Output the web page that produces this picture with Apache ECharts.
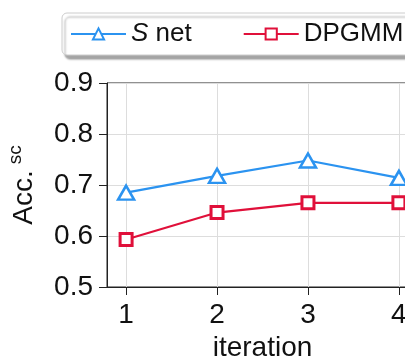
<!DOCTYPE html>
<html>
<head>
<meta charset="utf-8">
<script src="https://cdn.jsdelivr.net/npm/echarts@6/dist/echarts.min.js"></script>
<style>
  html, body { margin: 0; padding: 0; background: #fff; }
  #chart { width: 405px; height: 357px; }
</style>
</head>
<body>
<div id="chart"></div>
<script>
// 数据
var iterations = [1, 2, 3, 4];
var snetAcc = [0.685, 0.718, 0.748, 0.714];
var dpgmmAcc = [0.593, 0.646, 0.665, 0.665];
var yTicks = [0.5, 0.6, 0.7, 0.8, 0.9];

var font = '"Liberation Sans", Arial, sans-serif';

function pairs(xs, ys) {
    var out = [];
    for (var i = 0; i < xs.length; i++) out.push([xs[i], ys[i]]);
    return out;
}

var myChart = echarts.init(document.getElementById('chart'));
var option = {
    animation: false,
    textStyle: { fontFamily: font },
    legend: {
        orient: 'horizontal',
        left: 62,
        top: 13,
        width: 700,
        padding: [8, 40, 8, 8],
        itemWidth: 55,
        itemHeight: 14,
        itemGap: 51,
        backgroundColor: '#fff',
        borderColor: '#cccccc',
        borderWidth: 1,
        borderRadius: 5,
        shadowColor: 'rgba(0,0,0,0.35)',
        shadowBlur: 2,
        shadowOffsetX: 3,
        shadowOffsetY: 4,
        data: ['Snet', 'DPGMM'],
        formatter: function (name) {
            if (name === 'Snet') return '{i|S} net';
            return name;
        },
        textStyle: {
            fontSize: 26,
            color: '#111',
            fontFamily: font,
            rich: {
                i: { fontSize: 26, fontStyle: 'italic', color: '#111', fontFamily: font }
            }
        }
    },
    grid: {
        left: 107,
        top: 83,
        bottom: 70,
        right: -13,
        outerBoundsMode: 'none',
        containLabel: false,
        show: true,
        borderColor: '#222',
        borderWidth: 1,
        backgroundColor: 'transparent'
    },
    xAxis: {
        type: 'value',
        min: 0.79,
        max: 4.21,
        splitNumber: 3,
        name: 'iteration',
        nameLocation: 'middle',
        nameGap: 45,
        nameTextStyle: { fontSize: 28, color: '#111', fontFamily: font },
        axisLine: { show: true, lineStyle: { color: '#222', width: 1 } },
        axisTick: { show: true, inside: false, length: 8, customValues: iterations, lineStyle: { color: '#222' } },
        axisLabel: {
            fontSize: 28, color: '#111', margin: 14,
            customValues: iterations,
            formatter: function (v) { return Math.abs(v - Math.round(v)) < 1e-6 ? String(Math.round(v)) : ''; }
        },
        splitLine: { show: true, lineStyle: { color: '#dddddd', width: 1 } }
    },
    yAxis: {
        type: 'value',
        min: 0.5,
        max: 0.9,
        interval: 0.1,
        name: 'Acc.{sup|sc}',
        nameLocation: 'middle',
        nameGap: 64,
        nameRotate: 90,
        nameTextStyle: {
            fontSize: 28, color: '#111', fontFamily: font,
            rich: {
                sup: { fontSize: 19, color: '#111', fontFamily: font, verticalAlign: 'top', padding: [0, 0, 18, 6] }
            }
        },
        axisLine: { show: true, lineStyle: { color: '#222', width: 1 } },
        axisTick: { show: true, inside: false, length: 8, lineStyle: { color: '#222' } },
        axisLabel: {
            fontSize: 28, color: '#111', margin: 14,
            formatter: function (v) { return v.toFixed(1); }
        },
        splitLine: { show: true, lineStyle: { color: '#dddddd', width: 1 } }
    },
    series: [
        {
            name: 'Snet',
            type: 'line',
            data: pairs(iterations, snetAcc),
            symbol: 'triangle',
            symbolSize: [16, 14],
            color: '#2b93f0',
            lineStyle: { color: '#2b93f0', width: 2.2 },
            itemStyle: { color: '#fff', borderColor: '#2b93f0', borderWidth: 2.5 }
        },
        {
            name: 'DPGMM',
            type: 'line',
            data: pairs(iterations, dpgmmAcc),
            symbol: 'rect',
            symbolSize: 12,
            color: '#e0103a',
            lineStyle: { color: '#e0103a', width: 2.2 },
            itemStyle: { color: '#fff', borderColor: '#e0103a', borderWidth: 3 }
        }
    ]
};
myChart.setOption(option);
</script>
</body>
</html>
